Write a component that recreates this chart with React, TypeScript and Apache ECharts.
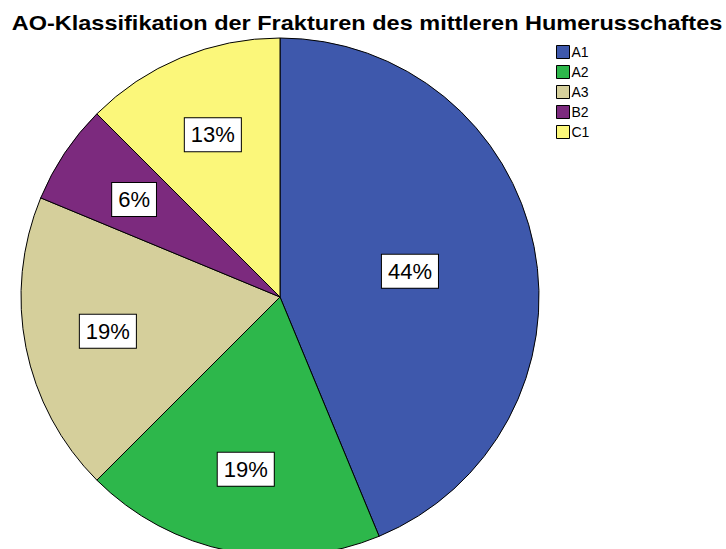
import React, { useEffect, useRef } from "react";
import * as echarts from "echarts";

const categories = ["A1", "A2", "A3", "B2", "C1"];
const counts = [7, 3, 3, 1, 2];
const percentLabels = ["44%", "19%", "19%", "6%", "13%"];
const colors = ["#3E58AC", "#2DB74B", "#D5CF9B", "#7C2A7E", "#FBF77A"];
const titleText = "AO-Klassifikation der Frakturen des mittleren Humerusschaftes";

export default function App() {
  const ref = useRef<HTMLDivElement>(null);
  useEffect(() => {
    if (!ref.current) return;
    const chart = echarts.init(ref.current, null, { renderer: "svg" });
    const labelStyle = {
      fontFamily: "Liberation Sans, Arial, sans-serif",
      fontSize: 22,
      color: "#000",
      backgroundColor: "#fff",
      borderColor: "#000",
      borderWidth: 1,
      padding: [6, 6, 5, 6],
    };
    const center = [280, 297];
    const R = 259;
    chart.setOption({
      animation: false,
      backgroundColor: "#fff",
      graphic: [
        {
          type: "text",
          x: 367,
          y: 23,
          scaleX: 1.12,
          silent: true,
          style: {
            text: titleText,
            x: 0,
            y: 0,
            textAlign: "center",
            textVerticalAlign: "middle",
            font: "bold 21px 'Liberation Sans', Arial, sans-serif",
            fill: "#000",
          },
        },
      ],
      legend: {
        orient: "vertical",
        left: 551,
        top: 40,
        icon: "rect",
        itemWidth: 13,
        itemHeight: 13,
        itemGap: 6,
        data: categories,
        textStyle: {
          fontFamily: "Liberation Sans, Arial, sans-serif",
          fontSize: 14,
          color: "#000",
          padding: [0, 0, 0, -3],
        },
        itemStyle: { borderColor: "#000", borderWidth: 1 },
      },
      series: [
        {
          type: "pie",
          center,
          radius: [0, R],
          startAngle: 90,
          clockwise: true,
          silent: true,
          data: categories.map((c, i) => ({
            name: c,
            value: counts[i],
            itemStyle: { color: colors[i], borderColor: "#000", borderWidth: 1 },
            label: {
              show: i === 0,
              position: "inside",
              formatter: percentLabels[i],
              ...labelStyle,
            },
          })),
          labelLine: { show: false },
        },
        {
          type: "pie",
          center,
          radius: [86, R],
          startAngle: 90,
          clockwise: true,
          silent: true,
          legendHoverLink: false,
          data: categories.map((c, i) => ({
            name: c + " ",
            value: counts[i],
            itemStyle: { color: "rgba(0,0,0,0)", borderWidth: 0 },
            label: {
              show: i !== 0,
              position: "inside",
              formatter: percentLabels[i],
              ...labelStyle,
            },
          })),
          labelLine: { show: false },
        },
      ],
    });
    return () => chart.dispose();
  }, []);
  return (
    <div
      ref={ref}
      style={{ position: "fixed", left: 0, top: 0, width: 726, height: 549 }}
    />
  );
}
